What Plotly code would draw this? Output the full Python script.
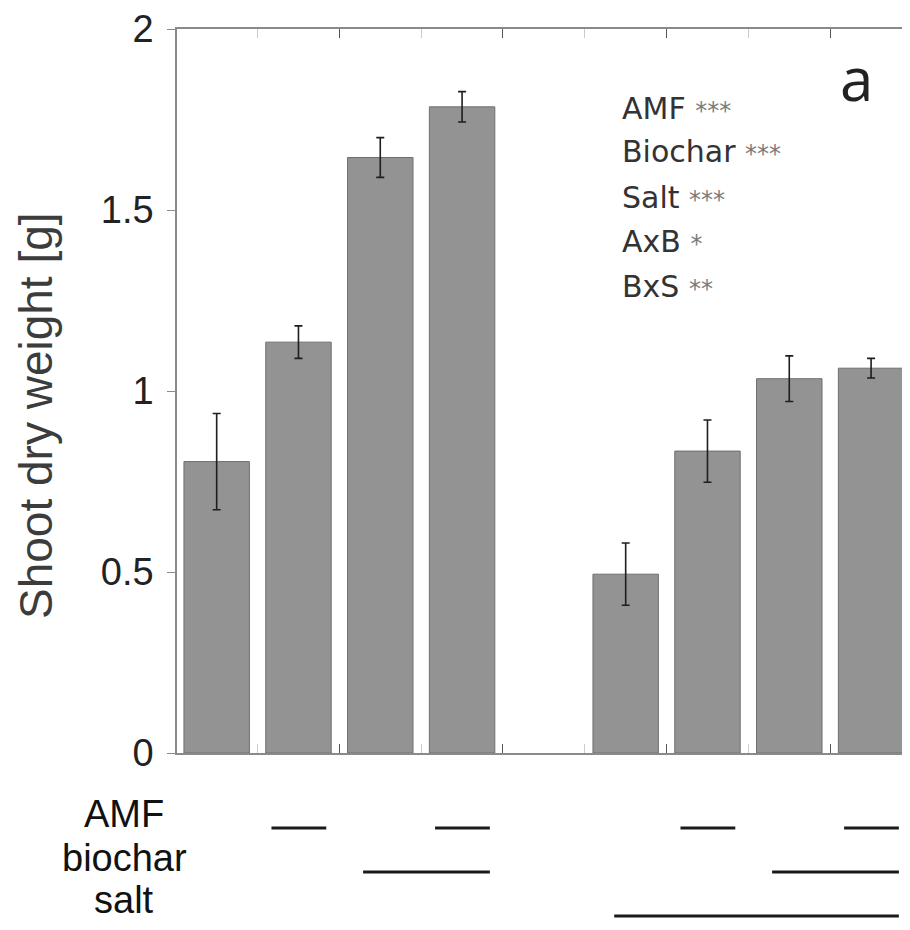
import plotly.graph_objects as go

# ---- data ----
positions = [1, 2, 3, 4, 6, 7, 8, 9]
shoot_dw = [0.805, 1.135, 1.645, 1.785, 0.494, 0.834, 1.034, 1.063]
shoot_se = [0.133, 0.045, 0.055, 0.042, 0.086, 0.086, 0.063, 0.027]
amf_flag = [0, 1, 0, 1, 0, 1, 0, 1]
biochar_flag = [0, 0, 1, 1, 0, 0, 1, 1]
salt_flag = [0, 0, 0, 0, 1, 1, 1, 1]
factor_labels = ["AMF", "biochar", "salt"]
sig_lines = [("AMF", "***"), ("Biochar", "***"), ("Salt", "***"), ("AxB", "*"), ("BxS", "**")]
panel_label = "a"
y_ticks = [0, 0.5, 1, 1.5, 2]
y_ticktext = ["0", "0.5", "1", "1.5", "2"]

# page has an 8px body margin; size the figure so the page is exactly 910x930
OFF = 8
W, H = 910 - 2 * OFF, 930 - 2 * OFF
ML, MR, MT, MB = 177 - OFF, 0, 29 - OFF, 0
PH = H - MT - MB
PW = W - ML - MR

def py2paper(py):
    return (H - MB - (py - OFF)) / PH

def px2paper(px):
    return ((px - OFF) - ML) / PW

fig = go.Figure()
fig.add_trace(go.Bar(
    x=positions, y=shoot_dw, width=0.8,
    marker=dict(color="#939393", line=dict(color="#6f6f6f", width=1)),
    error_y=dict(type="data", array=shoot_se, visible=True, color="#1e1e1e",
                 thickness=1.6, width=4),
    showlegend=False, xaxis="x", yaxis="y",
))

# factor indicator lines (drawn in lower subplot sharing x)
flags = {"AMF": amf_flag, "biochar": biochar_flag, "salt": salt_flag}
left_pad = {"AMF": 0.33, "biochar": 0.21, "salt": 0.14}
right_pad = 0.34
for row, name in enumerate(factor_labels):
    f = flags[name]
    i = 0
    n = len(f)
    while i < n:
        if f[i]:
            j = i
            while j + 1 < n and f[j + 1]:
                j += 1
            fig.add_trace(go.Scatter(
                x=[positions[i] - left_pad[name], positions[j] + right_pad],
                y=[row, row], mode="lines",
                line=dict(color="#1a1a1a", width=3.2),
                showlegend=False, hoverinfo="skip", xaxis="x", yaxis="y2",
            ))
            i = j + 1
        else:
            i += 1

main_bottom = py2paper(753)
y2_dom_top = main_bottom - 0.006
# map rows 0,1,2 to pixel rows 828, 872, 916
y2_top_px = (H - MB) - y2_dom_top * PH + OFF
y2_bot_px = (H - MB) + OFF
step = 44.0
r0 = -(828 - y2_top_px) / step
r1 = r0 + (y2_bot_px - y2_top_px) / step

fig.update_layout(
    template="none",
    width=W, height=H,
    margin=dict(l=ML, r=MR, t=MT, b=MB, autoexpand=False),
    paper_bgcolor="white", plot_bgcolor="white",
    showlegend=False,
    xaxis=dict(
        range=[0.515, 9.378], anchor="y", automargin=False,
        showline=True, linecolor="#8a8a8a", linewidth=1.5, mirror="ticks",
        ticks="inside", ticklen=9, tickwidth=1.2, tickcolor="#555555",
        tickmode="array", tickvals=[2.5, 4.5, 6.5, 8.5],
        minor=dict(tickmode="array", tickvals=[1.5, 3.5, 5.5, 7.5],
                   ticks="inside", ticklen=9, tickcolor="#cccccc", tickwidth=1.2),
        showticklabels=False, showgrid=False, zeroline=False,
    ),
    yaxis=dict(
        domain=[main_bottom, 1], range=[0, 2], anchor="x", automargin=False,
        showline=True, linecolor="#8a8a8a", linewidth=1.5,
        ticks="outside", ticklen=8, tickcolor="#8a8a8a", tickwidth=1.2,
        tickmode="array", tickvals=y_ticks, ticktext=y_ticktext,
        tickfont=dict(family="Liberation Sans, Arial", size=38, color="#222222"),
        ticklabelstandoff=6, ticklabeloverflow="allow",
        showgrid=False, zeroline=False,
    ),
    yaxis2=dict(
        domain=[0, y2_dom_top], range=[r1, r0], anchor="x", automargin=False,
        visible=False, showgrid=False, zeroline=False,
    ),
)

annotations = []
# y-axis title
annotations.append(dict(
    text="Shoot dry weight [g]", textangle=-90,
    xref="paper", yref="paper", x=px2paper(36), y=py2paper(416),
    xanchor="center", yanchor="middle", showarrow=False,
    font=dict(family="Liberation Sans, Arial", size=46, color="#3c3c3c"),
))
# factor row labels
label_shift = [14, 14, 16]
for row, name in enumerate(factor_labels):
    annotations.append(dict(
        text=name, xref="paper", yref="y2", x=px2paper(124), y=row,
        xanchor="center", yanchor="middle", yshift=label_shift[row], showarrow=False,
        font=dict(family="Liberation Sans, Arial", size=38, color="#111111"),
    ))
# significance text
sig_mid_px = [109, 152, 197, 241, 286]
for (lab, stars), pym in zip(sig_lines, sig_mid_px):
    annotations.append(dict(
        text=f'{lab} <span style="font-size:24px;color:#7a7a7a">{stars}</span>',
        xref="paper", yref="paper", x=px2paper(620), y=py2paper(pym),
        xanchor="left", yanchor="middle", showarrow=False,
        font=dict(family="DejaVu Sans", size=30, color="#333333"),
    ))
# panel label
annotations.append(dict(
    text=panel_label, xref="paper", yref="paper", x=px2paper(856), y=py2paper(78),
    xanchor="center", yanchor="middle", showarrow=False,
    font=dict(family="Open Sans", size=60, color="#222222"),
))
fig.update_layout(annotations=annotations)

fig.write_html("out.html")
